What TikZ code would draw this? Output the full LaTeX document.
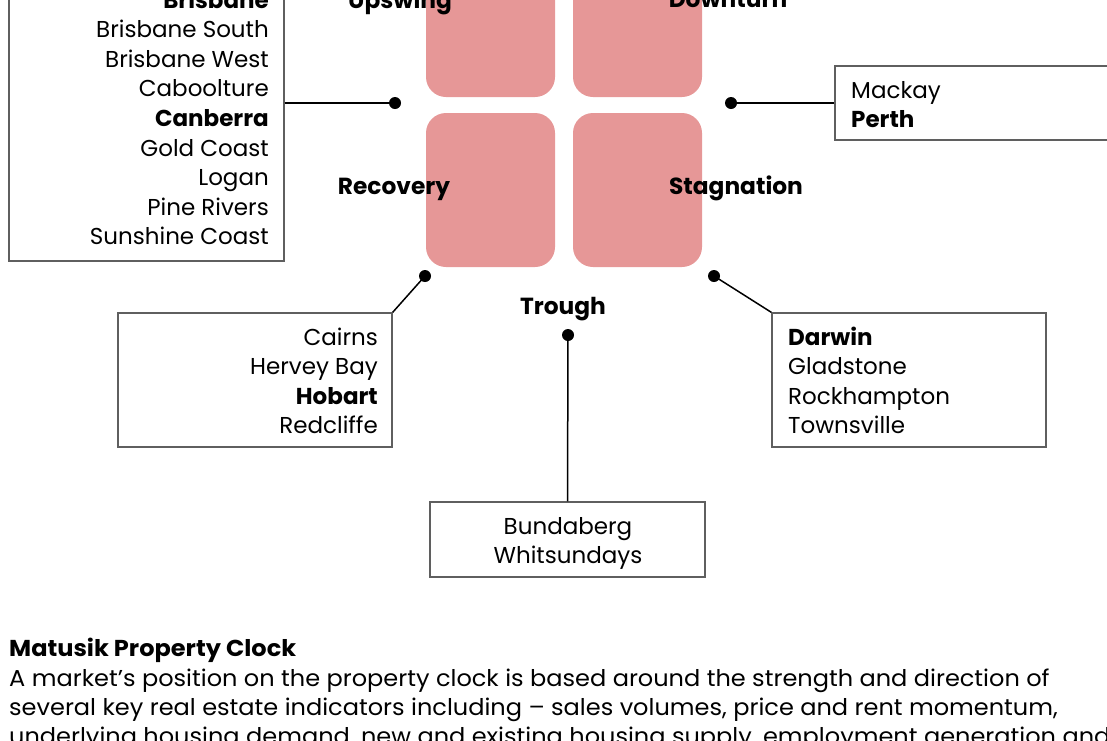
\documentclass[tikz,border=0pt]{standalone}
\usepackage{fontspec}
\setmainfont{Poppins}
\newfontfamily\parafont{Poppins}[FakeStretch=1.045]
\definecolor{clockpink}{RGB}{230,151,151}
\definecolor{boxgray}{RGB}{95,95,95}
\begin{document}
\begin{tikzpicture}[x=1pt,y=-1pt]
\tikzset{
  phase/.style={fill=clockpink, draw=none, rounded corners=20pt, minimum width=129pt, minimum height=154pt, inner sep=0pt},
  stage/.style={font=\fontsize{23.3}{27}\selectfont\bfseries, anchor=base, inner sep=0pt},
  listbox/.style={draw=boxgray, line width=1.3pt, rectangle, inner sep=0pt},
  dot/.style={circle, fill=black, inner sep=0pt, minimum size=12pt},
  conn/.style={line width=1.5pt, draw=black},
  item/.style={font=\fontsize{23}{27}\selectfont, inner sep=0pt},
  itemb/.style={item, font=\fontsize{23}{27}\selectfont\bfseries},
  para/.style={font=\parafont\fontsize{23}{27}\selectfont, inner sep=0pt, anchor=base west}
}
\useasboundingbox (0,0) rectangle (1107,740);
\clip (0,0) rectangle (1107,740);

% clock quadrants
\node[phase] (q1) at (490.5,20) {};
\node[phase] (q2) at (637.5,20) {};
\node[phase] (q3) at (490.5,190) {};
\node[phase] (q4) at (637.5,190) {};

% stage labels
\node[stage] (upswing) at (400,8) {Upswing};
\node[stage] (downturn) at (728,7) {Downturn};
\node[stage] (recovery) at (394,194) {Recovery};
\node[stage] (stagnation) at (736,194) {Stagnation};
\node[stage] (trough) at (563,314) {Trough};

% dots
\node[dot] (dUL) at (395,103) {};
\node[dot] (dUR) at (731,103) {};
\node[dot] (dLL) at (425,276) {};
\node[dot] (dLR) at (714,276) {};
\node[dot] (dB) at (568,335) {};

% boxes
\node[listbox, minimum width=275pt, minimum height=301pt] (upbox) at (146.5,110.5) {};
\node[listbox, minimum width=285pt, minimum height=74pt] (downbox) at (977.5,103) {};
\node[listbox, minimum width=274pt, minimum height=134pt] (recbox) at (255,380) {};
\node[listbox, minimum width=274pt, minimum height=134pt] (stagbox) at (909,380) {};
\node[listbox, minimum width=275pt, minimum height=75pt] (troughbox) at (567.5,539.5) {};

% connectors
\draw[conn] (upbox.east |- dUL) -- (dUL.center);
\draw[conn] (dUR.center) -- (downbox.west);
\draw[conn] (recbox.north east) -- (dLL.center);
\draw[conn] (stagbox.north west) -- (dLR.center);
\draw[conn] (dB.center) -- (troughbox.north);

% upswing list
\node[itemb, anchor=base east] (u1) at (269,8) {Brisbane};
\node[item, anchor=base east] (u2) at (269,37.6) {Brisbane South};
\node[item, anchor=base east] (u3) at (269,67.2) {Brisbane West};
\node[item, anchor=base east] (u4) at (269,96.8) {Caboolture};
\node[itemb, anchor=base east] (u5) at (269,126.4) {Canberra};
\node[item, anchor=base east] (u6) at (269,156) {Gold Coast};
\node[item, anchor=base east] (u7) at (269,185.6) {Logan};
\node[item, anchor=base east] (u8) at (269,215.2) {Pine Rivers};
\node[item, anchor=base east] (u9) at (269,244.8) {Sunshine Coast};

% downturn list
\node[item, anchor=base west] (d1) at (851,98) {Mackay};
\node[itemb, anchor=base west] (d2) at (851,127.6) {Perth};

% recovery list
\node[item, anchor=base east] (r1) at (378,345) {Cairns};
\node[item, anchor=base east] (r2) at (378,374.6) {Hervey Bay};
\node[itemb, anchor=base east] (r3) at (378,404.2) {Hobart};
\node[item, anchor=base east] (r4) at (378,433.8) {Redcliffe};

% stagnation list
\node[itemb, anchor=base west] (s1) at (788,345) {Darwin};
\node[item, anchor=base west] (s2) at (788,374.6) {Gladstone};
\node[item, anchor=base west] (s3) at (788,404.2) {Rockhampton};
\node[item, anchor=base west] (s4) at (788,433.8) {Townsville};

% trough list
\node[item, anchor=base] (t1) at (568,534) {Bundaberg};
\node[item, anchor=base] (t2) at (568,563.6) {Whitsundays};

% caption
\node[para, font=\parafont\fontsize{23}{27}\selectfont\bfseries] (title) at (9,656) {Matusik Property Clock};
\node[para] (p1) at (9,686) {A market’s position on the property clock is based around the strength and direction of};
\node[para] (p2) at (9,715) {several key real estate indicators including – sales volumes, price and rent momentum,};
\node[para] (p3) at (9,744) {underlying housing demand, new and existing housing supply, employment generation and};
\end{tikzpicture}
\end{document}
